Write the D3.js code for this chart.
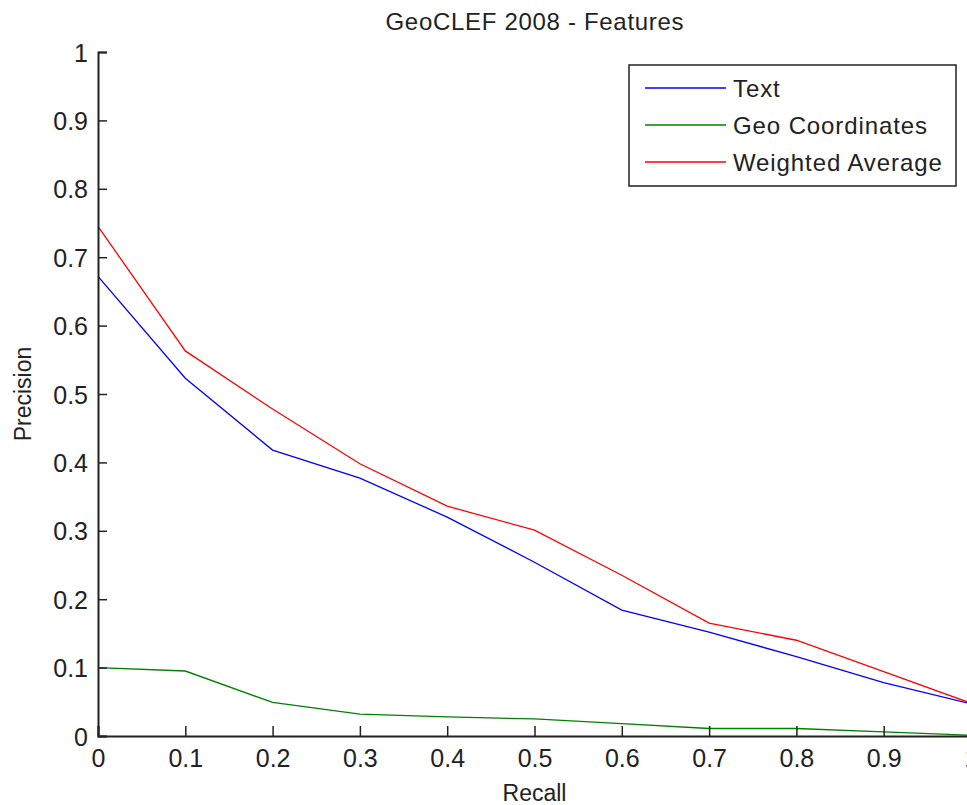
<!DOCTYPE html>
<html>
<head>
<meta charset="utf-8">
<script src="https://cdn.jsdelivr.net/npm/d3@7"></script>
<style>
  body { margin: 0; background: #fff; overflow: hidden; }
  text { font-family: "Liberation Sans", Arial, sans-serif; fill: #222; }
</style>
</head>
<body>
<div id="chart"></div>
<script>
// recall levels and precision per method
var recall = [0, 0.1, 0.2, 0.3, 0.4, 0.5, 0.6, 0.7, 0.8, 0.9, 1.0];
var textPrec = [0.672, 0.523, 0.418, 0.377, 0.32, 0.254, 0.184, 0.152, 0.116, 0.078, 0.047];
var geoPrec = [0.1, 0.095, 0.049, 0.032, 0.028, 0.025, 0.018, 0.011, 0.011, 0.006, 0.001];
var avgPrec = [0.745, 0.563, 0.478, 0.398, 0.336, 0.301, 0.235, 0.165, 0.14, 0.094, 0.048];
var seriesNames = ["Text", "Geo Coordinates", "Weighted Average"];
var seriesColors = ["#0000ff", "#008000", "#ff0000"];
var xTicks = [0, 0.1, 0.2, 0.3, 0.4, 0.5, 0.6, 0.7, 0.8, 0.9, 1];
var yTicks = [0, 0.1, 0.2, 0.3, 0.4, 0.5, 0.6, 0.7, 0.8, 0.9, 1];

var W = 967, H = 805;
// plot box (right edge runs just past the window, as in the original)
var plotL = 98, plotR = 971, plotT = 52, plotB = 736;

var svg = d3.select("#chart").append("svg")
    .attr("width", W)
    .attr("height", H);

var x = d3.scaleLinear().domain([0, 1]).range([plotL, plotR]);
var y = d3.scaleLinear().domain([0, 1]).range([plotB, plotT]);

// title
svg.append("text")
    .attr("x", (plotL + plotR) / 2)
    .attr("y", 30)
    .attr("text-anchor", "middle")
    .attr("font-size", 24)
    .attr("textLength", 298)
    .text("GeoCLEF 2008 - Features");

// lines
var line = d3.line()
    .x(function (d, i) { return x(recall[i]); })
    .y(function (d) { return y(d); });

[textPrec, geoPrec, avgPrec].forEach(function (s, i) {
    svg.append("path")
        .datum(s)
        .attr("fill", "none")
        .attr("stroke", seriesColors[i])
        .attr("stroke-width", 1.3)
        .attr("d", line);
});

// axes (ticks pointing inward, matlab style)
var fmt = function (d) { return String(+d.toFixed(1)); };

var xAxis = svg.append("g")
    .attr("transform", "translate(0," + plotB + ")")
    .call(d3.axisBottom(x).tickValues(xTicks).tickSize(-10).tickPadding(13).tickFormat(fmt));
var yAxis = svg.append("g")
    .attr("transform", "translate(" + plotL + ",0)")
    .call(d3.axisLeft(y).tickValues(yTicks).tickSize(-9).tickPadding(10).tickFormat(fmt));

[xAxis, yAxis].forEach(function (g) {
    g.select(".domain").attr("stroke", "#222").attr("stroke-width", 2);
    g.selectAll(".tick line").attr("stroke", "#222").attr("stroke-width", 1.5);
    g.selectAll(".tick text")
        .attr("font-size", 25)
        .attr("font-family", "Liberation Sans, Arial, sans-serif")
        .attr("fill", "#222");
});
xAxis.selectAll(".tick text").attr("dy", "0.72em");
yAxis.selectAll(".tick text").attr("dy", "0.36em");

// axis labels
svg.append("text")
    .attr("x", (plotL + plotR) / 2)
    .attr("y", 801)
    .attr("text-anchor", "middle")
    .attr("font-size", 23)
    .text("Recall");

svg.append("text")
    .attr("transform", "translate(31," + ((plotT + plotB) / 2) + ") rotate(-90)")
    .attr("text-anchor", "middle")
    .attr("font-size", 23)
    .text("Precision");

// legend
var legend = svg.append("g");
legend.append("rect")
    .attr("x", 629)
    .attr("y", 65)
    .attr("width", 327)
    .attr("height", 121)
    .attr("fill", "#fff")
    .attr("stroke", "#222")
    .attr("stroke-width", 1.5);

var rows = legend.selectAll("g.row")
    .data(seriesNames)
    .enter()
    .append("g")
    .attr("class", "row")
    .attr("transform", function (d, i) { return "translate(0," + (88 + i * 37) + ")"; });

rows.append("line")
    .attr("x1", 645)
    .attr("x2", 726)
    .attr("stroke", function (d, i) { return seriesColors[i]; })
    .attr("stroke-width", 1.3);

rows.append("text")
    .attr("x", 733)
    .attr("dy", "0.36em")
    .attr("font-size", 24)
    .attr("letter-spacing", 0.9)
    .text(function (d) { return d; });
</script>
</body>
</html>
